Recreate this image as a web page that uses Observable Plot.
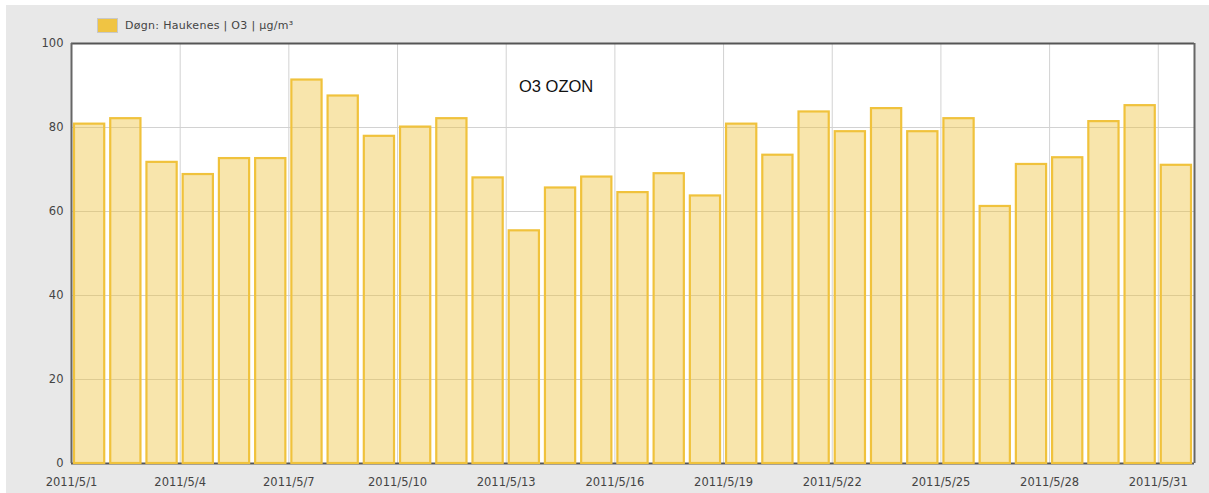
<!DOCTYPE html>
<html>
<head>
<meta charset="utf-8">
<script src="https://cdn.jsdelivr.net/npm/d3@7"></script>
<script src="https://cdn.jsdelivr.net/npm/@observablehq/plot@0.6"></script>
<style>
  html, body { margin: 0; padding: 0; background: #ffffff; }
  #wrap { position: absolute; left: 6px; top: 5px; width: 1203px; height: 488px; background: #e8e8e8; overflow: hidden; }
  #legend { position: absolute; left: 91px; top: 13px; display: flex; align-items: center; font-family: "DejaVu Sans", sans-serif; font-size: 11px; letter-spacing: 0.3px; color: #444; }
  #legend .sw { width: 19px; height: 13px; background: #f0c443; border: 1px solid #c8c8c8; margin-right: 7px; }
  #title { position: absolute; left: 513px; top: 72px; font-family: "Liberation Sans", Arial, sans-serif; font-size: 16.5px; color: #111; }
  #chart svg { display: block; }
</style>
</head>
<body>
<div id="wrap">
  <div id="chart"></div>
  <div id="legend"><div class="sw"></div><span>Døgn: Haukenes | O3 | µg/m³</span></div>
  <div id="title">O3 OZON</div>
</div>
<script>
const dates = [
  "2011-05-01","2011-05-02","2011-05-03","2011-05-04","2011-05-05","2011-05-06","2011-05-07",
  "2011-05-08","2011-05-09","2011-05-10","2011-05-11","2011-05-12","2011-05-13","2011-05-14",
  "2011-05-15","2011-05-16","2011-05-17","2011-05-18","2011-05-19","2011-05-20","2011-05-21",
  "2011-05-22","2011-05-23","2011-05-24","2011-05-25","2011-05-26","2011-05-27","2011-05-28",
  "2011-05-29","2011-05-30","2011-05-31"
];
const o3Values = [
  80.8, 82.1, 71.7, 68.8, 72.6, 72.6, 91.3, 87.5, 77.9, 80.1, 82.1, 68.0, 55.4, 65.6, 68.2, 64.5,
  69.0, 63.7, 80.8, 73.4, 83.7, 79.0, 84.5, 79.0, 82.1, 61.2, 71.2, 72.8, 81.4, 85.2, 71.0
];
const xTickDates = [
  "2011-05-01","2011-05-04","2011-05-07","2011-05-10","2011-05-13","2011-05-16",
  "2011-05-19","2011-05-22","2011-05-25","2011-05-28","2011-05-31"
];
const yTicks = [0, 20, 40, 60, 80, 100];
const xDomain = ["2011-05-01", "2011-06-01"];

const data = dates.map((d, i) => ({date: new Date(d), value: o3Values[i]}));
const xTicks = xTickDates.map(d => new Date(d));
const xEnds = xDomain.map(d => new Date(d));
const fmt = d3.utcFormat("%Y/%-m/%-d");

const chart = Plot.plot({
  width: 1203,
  height: 488,
  marginLeft: 65,
  marginRight: 15,
  marginTop: 38,
  marginBottom: 30,
  style: {background: "transparent", fontFamily: "DejaVu Sans, sans-serif", fontSize: "11.5px", color: "#444"},
  x: {type: "utc", domain: xEnds},
  y: {domain: [0, 100]},
  marks: [
    Plot.frame({fill: "#ffffff", stroke: "none"}),
    Plot.gridY(yTicks.filter(v => v > 0 && v < 100), {stroke: "#d2d2d2", strokeOpacity: 1, strokeWidth: 1}),
    Plot.gridX(xTicks.slice(1), {stroke: "#d2d2d2", strokeOpacity: 1, strokeWidth: 1}),
    Plot.ruleY([0], {stroke: "#555", strokeWidth: 2}),
    Plot.rectY(data, {
      x: "date", y: "value", interval: d3.utcDay,
      insetLeft: 3, insetRight: 3,
      fill: "#eec23a", fillOpacity: 0.42,
      stroke: "#f0c23c", strokeWidth: 2.2
    }),
    Plot.ruleY([100], {stroke: "#555", strokeWidth: 2}),
    Plot.ruleX(xEnds, {stroke: "#666", strokeWidth: 2}),
    Plot.axisY({ticks: yTicks, tickSize: 0, tickPadding: 8, label: null, fill: "#444"}),
    Plot.axisX({ticks: xTicks, tickFormat: fmt, tickSize: 0, tickPadding: 14, label: null, fill: "#444"})
  ]
});
document.getElementById("chart").appendChild(chart);
</script>
</body>
</html>
